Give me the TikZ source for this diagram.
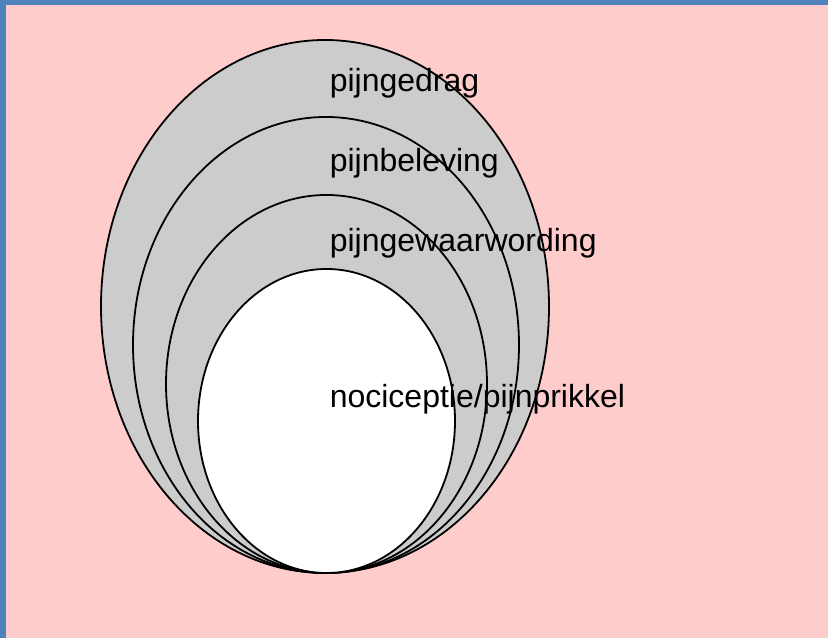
\documentclass[tikz,border=0pt]{standalone}
\usepackage{fontspec}
\setmainfont{Liberation Sans}
\definecolor{frameblue}{HTML}{4F81BD}
\definecolor{bgpink}{HTML}{FFCCCC}
\definecolor{layergray}{HTML}{CCCCCC}

\begin{document}
\begin{tikzpicture}[x=0.25pt, y=-0.25pt,
  every node/.style={font=\fontsize{8}{9.6}\selectfont, inner sep=0pt, anchor=base west},
  layer/.style={draw=black, line width=0.45pt, fill=layergray}]
\useasboundingbox (0,0) rectangle (828,638);
\fill[frameblue] (0,0) rectangle (828,638);
\fill[bgpink] (6,5) rectangle (828,638);
% nested layers, all touching at the bottom
\draw[layer] (325,306.5) ellipse (224 and 266.5);
\draw[layer] (326,345) ellipse (193 and 228);
\draw[layer] (326.5,384) ellipse (160.5 and 189);
\draw[layer, fill=white] (326.5,421) ellipse (128.5 and 152);
\node (gedrag) at (329,92) {pijngedrag};
\node (beleving) at (329,172) {pijnbeleving};
\node (gewaar) at (329,252) {pijngewaarwording};
\node (prikkel) at (329,408) {nociceptie/pijnprikkel};
\end{tikzpicture}
\end{document}
